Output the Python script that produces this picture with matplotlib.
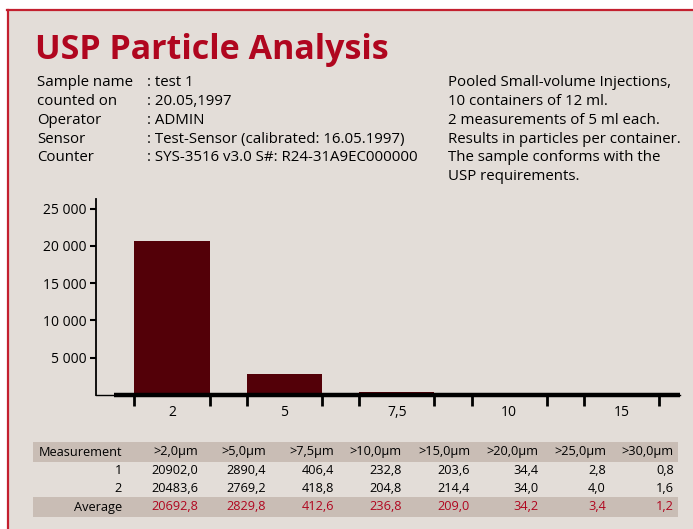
import matplotlib.pyplot as plt
from matplotlib.patches import Rectangle
from matplotlib.lines import Line2D

# Daten
categories = ['2', '5', '7,5', '10', '15']
bar_values = [20692.8, 2829.8, 412.6, 236.8, 209.0]
y_ticks = [5000, 10000, 15000, 20000, 25000]
y_labels = ['5 000', '10 000', '15 000', '20 000', '25 000']

sizes = ['>2,0µm', '>5,0µm', '>7,5µm', '>10,0µm', '>15,0µm', '>20,0µm', '>25,0µm', '>30,0µm']
meas_1 = [20902.0, 2890.4, 406.4, 232.8, 203.6, 34.4, 2.8, 0.8]
meas_2 = [20483.6, 2769.2, 418.8, 204.8, 214.4, 34.0, 4.0, 1.6]
average = [20692.8, 2829.8, 412.6, 236.8, 209.0, 34.2, 3.4, 1.2]

info_keys = ['Sample name', 'counted on', 'Operator', 'Sensor', 'Counter']
info_vals = [': test 1', ': 20.05,1997', ': ADMIN',
             ': Test-Sensor (calibrated: 16.05.1997)',
             ': SYS-3516 v3.0 S#: R24-31A9EC000000']
notes = ['Pooled Small-volume Injections,', '10 containers of 12 ml.',
         '2 measurements of 5 ml each.', 'Results in particles per container.',
         'The sample conforms with the', 'USP requirements.']

W, H = 693, 529
bg = '#e3ddd8'
band = '#c9bdb5'
red = '#b0061f'
border = '#c3202f'
bar_color = '#530008'
font = 'Open Sans'

def fx(x):
    return x / W

def fy(y):
    return 1 - y / H

fig = plt.figure(figsize=(W / 100, H / 100), dpi=100, facecolor='white')

# Hintergrund und roter Rahmen
fig.patches.append(Rectangle((fx(8), 0), 1 - fx(8), fy(10), transform=fig.transFigure,
                             facecolor=bg, edgecolor='none', zorder=-5))
fig.lines.append(Line2D([fx(7), 1], [fy(10), fy(10)], transform=fig.transFigure,
                        color=border, lw=1.6))
fig.lines.append(Line2D([fx(8), fx(8)], [fy(10), 0], transform=fig.transFigure,
                        color=border, lw=1.6))

# Titel
fig.text(fx(35), fy(50), 'USP Particle Analysis', color=red, fontsize=24.5,
         fontweight='bold', family=font, va='center', ha='left')

# Kopfinformationen
fs_info = 10.8
for i, (k, v) in enumerate(zip(info_keys, info_vals)):
    y = fy(83 + i * 18.7)
    fig.text(fx(37), y, k, fontsize=fs_info, family=font, va='center')
    fig.text(fx(147), y, v, fontsize=fs_info, family=font, va='center')
for i, n in enumerate(notes):
    fig.text(fx(448), fy(83 + i * 18.7), n, fontsize=fs_info, family=font, va='center')

# Diagramm
ax = fig.add_axes([fx(96), fy(395), fx(680) - fx(96), (395 - 199) / H])
ax.set_facecolor('none')
x = range(len(categories))
ax.bar(x, bar_values, width=0.67, color=bar_color, zorder=2)
ax.plot([-0.52, 4.52], [0, 0], color='black', lw=3.2, solid_capstyle='butt',
        clip_on=False, zorder=3)
ax.set_xlim(-0.676, 4.52)
ax.set_ylim(0, 26300)
for s in ['top', 'right']:
    ax.spines[s].set_visible(False)
ax.spines['left'].set_linewidth(1.3)
ax.spines['bottom'].set_linewidth(1.0)

ax.set_xticks(list(x))
ax.set_xticklabels(categories, family=font, fontsize=10)
ax.tick_params(axis='x', which='major', length=0, pad=7)
edges = [i + d for i in x for d in (-0.335, 0.335)]
ax.set_xticks(edges, minor=True)
ax.tick_params(axis='x', which='minor', length=8, width=2, direction='out')

ax.set_yticks(y_ticks)
ax.set_yticklabels(y_labels, family=font, fontsize=10)
ax.tick_params(axis='y', length=4, width=1.5, pad=3)

# Tabelle
fig.patches.append(Rectangle((fx(33), fy(462)), fx(678) - fx(33), 20 / H,
                             transform=fig.transFigure, facecolor=band, edgecolor='none'))
fig.patches.append(Rectangle((fx(33), fy(517)), fx(678) - fx(33), 20 / H,
                             transform=fig.transFigure, facecolor=band, edgecolor='none'))

def fmt(v):
    return f'{v:.1f}'.replace('.', ',')

fs_tab = 9.2
col_right = [198 + i * 68 for i in range(len(sizes))]
rows = [('Measurement', sizes, 452, 'black'),
        ('1', [fmt(v) for v in meas_1], 470, 'black'),
        ('2', [fmt(v) for v in meas_2], 488, 'black'),
        ('Average', [fmt(v) for v in average], 507, red)]
for label, cells, y, c in rows:
    fig.text(fx(122), fy(y), label, fontsize=fs_tab, family=font, ha='right', va='center')
    for xr, cell in zip(col_right, cells):
        fig.text(fx(xr), fy(y), cell, fontsize=fs_tab, family=font, ha='right',
                 va='center', color=c)

fig.savefig('out.png', dpi=100, facecolor=fig.get_facecolor())
